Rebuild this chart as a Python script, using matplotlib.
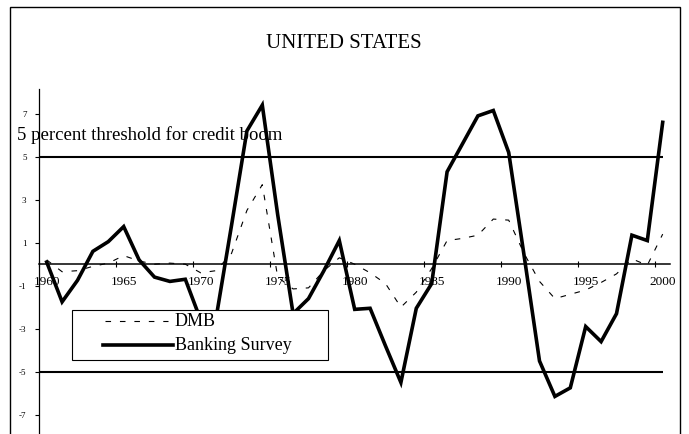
import numpy as np
import matplotlib
matplotlib.use('Agg')
import matplotlib.pyplot as plt
from matplotlib.patches import Rectangle
from matplotlib.lines import Line2D

plt.rcParams['font.family'] = ['Liberation Serif', 'DejaVu Serif']

# data (annual, 1960-2000)
years = np.arange(1960, 2001)
banking_survey = [0.1, -1.75, -0.75, 0.6, 1.05, 1.75, 0.2, -0.6, -0.8, -0.7,
                  -2.6, -2.5, 1.8, 6.2, 7.4, 2.3, -2.3, -1.6, -0.3, 1.1,
                  -2.1, -2.05, -3.8, -5.5, -2.05, -0.9, 4.3, 5.6, 6.9, 7.15,
                  5.2, 0.4, -4.5, -6.15, -5.75, -2.9, -3.6, -2.3, 1.35, 1.1, 6.6]
dmb = [0.2, -0.35, -0.3, -0.1, 0.05, 0.4, 0.15, 0.0, 0.05, 0.0,
       -0.4, -0.3, 0.5, 2.5, 3.7, -0.6, -1.15, -1.1, -0.3, 0.3,
       0.0, -0.4, -0.9, -2.0, -1.3, -0.2, 1.1, 1.2, 1.35, 2.1,
       2.05, 0.5, -0.8, -1.6, -1.4, -1.2, -0.85, -0.45, 0.25, -0.05, 1.4]
threshold = 5
year_labels = ['1960', '1965', '1970', '1975', '1980', '1985', '1990', '1995', '2000']
y_ticks = [7, 5, 3, 1, -1, -3, -5, -7]

W, H = 689, 434
fig = plt.figure(figsize=(W / 100, H / 100), dpi=100)
fig.patch.set_facecolor('white')

# plot area in pixels: x 39..670.4, y 89..436.2
ax = fig.add_axes([39 / W, (H - 436.2) / H, (670.4 - 39) / W, (436.2 - 89) / H])
ax.set_xlim(1959.5, 2000.5)
ax.set_ylim(-8, 8.15)

ax.plot(years, dmb, color='black', lw=0.8, ls=(0, (5, 8)))
ax.plot(years, banking_survey, color='black', lw=2.6, solid_joinstyle='miter')
ax.hlines([threshold, -threshold], 1959.5, 2000, color='black', lw=1.5)

for s in ['top', 'right']:
    ax.spines[s].set_visible(False)
ax.spines['bottom'].set_position(('data', 0))
ax.spines['bottom'].set_linewidth(1.1)
ax.spines['left'].set_linewidth(0.9)

ax.set_xticks([int(y) for y in year_labels])
ax.set_xticklabels(year_labels, fontsize=9.5)
ax.set_xticks(np.arange(1959.5, 2001, 5), minor=True)
ax.tick_params(axis='x', which='major', length=0, pad=8.5)
ax.tick_params(axis='x', which='minor', direction='inout', length=4, width=0.8)

ax.set_yticks(y_ticks)
ax.set_yticklabels([str(v) for v in y_ticks], fontsize=6.5)
ax.tick_params(axis='y', direction='out', length=3, width=0.8, pad=6)

fig.text(344 / W, 1 - 43 / H, 'UNITED STATES', ha='center', va='center', fontsize=15)
fig.text(17 / W, 1 - 135 / H, '5 percent threshold for credit boom',
         ha='left', va='center', fontsize=13.5)

# legend box
fig.add_artist(Rectangle((71.7 / W, (H - 360) / H), 256.6 / W, 50 / H,
                         transform=fig.transFigure, facecolor='white',
                         edgecolor='black', lw=0.8, zorder=5))
fig.add_artist(Line2D([105 / W, 168 / W], [1 - 321 / H, 1 - 321 / H],
                      transform=fig.transFigure, color='black', lw=0.8,
                      ls=(0, (5, 8)), zorder=6))
fig.add_artist(Line2D([103 / W, 173 / W], [1 - 345 / H, 1 - 345 / H],
                      transform=fig.transFigure, color='black', lw=2.6, zorder=6))
fig.text(175 / W, 1 - 321 / H, 'DMB', ha='left', va='center', fontsize=13, zorder=6)
fig.text(175 / W, 1 - 345 / H, 'Banking Survey', ha='left', va='center',
         fontsize=13, zorder=6)

# outer frame
fig.add_artist(Rectangle((10 / W, -0.05), 670 / W, (H - 7) / H + 0.05,
                         transform=fig.transFigure, facecolor='none',
                         edgecolor='black', lw=1.0, zorder=4))

fig.savefig('out.png', dpi=100)
